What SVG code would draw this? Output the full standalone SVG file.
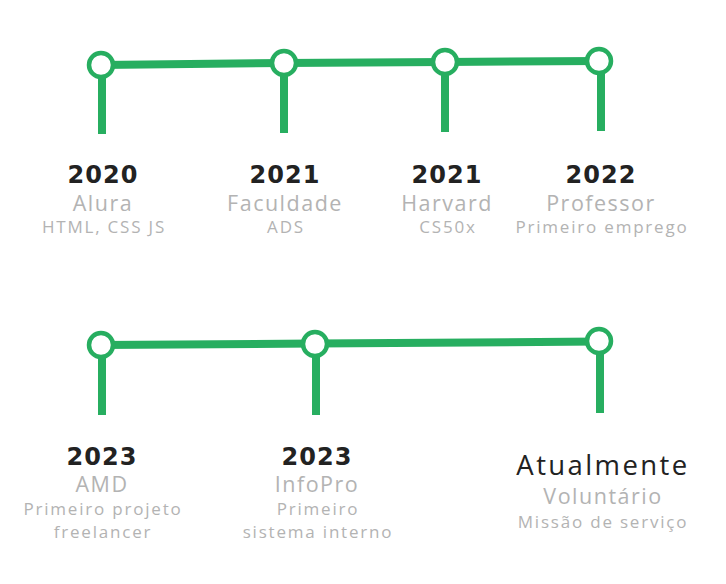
<svg xmlns="http://www.w3.org/2000/svg" width="726" height="584" viewBox="0 0 726 584">
<style>
.ln{stroke:#27ae60;stroke-width:8;fill:none}
.dot{fill:#fff;stroke:#27ae60;stroke-width:4.5}
.yr{font-family:"DejaVu Sans",sans-serif;font-weight:700;font-size:24px;fill:#222;text-anchor:middle;letter-spacing:1px}
.t1{font-family:"Open Sans",sans-serif;font-size:21.5px;fill:#b3b3b3;text-anchor:middle;letter-spacing:1.5px}
.t2{font-family:"Open Sans",sans-serif;font-size:17px;fill:#b3b3b3;text-anchor:middle;letter-spacing:1.8px}
.now{font-family:"Open Sans",sans-serif;font-weight:500;font-size:27.5px;fill:#222;text-anchor:middle;letter-spacing:2.4px}
</style>
<rect width="726" height="584" fill="#fff"/>
<g id="connectors">
<path class="ln" d="M101 65 L284 63 L445 62 L599 61"/>
<path class="ln" d="M102 77 V134 M284 75 V133 M445 74 V132 M601 73 V131"/>
<path class="ln" d="M101 345 L315 343.5 L599 341.5"/>
<path class="ln" d="M102 357 V415 M316 356 V415 M600 354 V413"/>
</g>
<g id="n2020"><circle class="dot" cx="101" cy="65" r="12"/><text class="yr" x="103" y="183">2020</text><text class="t1" x="103" y="211">Alura</text><text class="t2" x="104" y="233">HTML, CSS JS</text></g>
<g id="n2021a"><circle class="dot" cx="284" cy="63" r="12"/><text class="yr" x="285" y="183">2021</text><text class="t1" x="285" y="211">Faculdade</text><text class="t2" x="286" y="233">ADS</text></g>
<g id="n2021b"><circle class="dot" cx="445" cy="62" r="12"/><text class="yr" x="447" y="183">2021</text><text class="t1" x="447" y="211">Harvard</text><text class="t2" x="448" y="233">CS50x</text></g>
<g id="n2022"><circle class="dot" cx="599" cy="61" r="12"/><text class="yr" x="601" y="183">2022</text><text class="t1" x="601" y="211">Professor</text><text class="t2" x="602" y="233">Primeiro emprego</text></g>
<g id="n2023a"><circle class="dot" cx="101" cy="345" r="12"/><text class="yr" x="102" y="465">2023</text><text class="t1" x="102" y="492">AMD</text><text class="t2" x="103" y="515">Primeiro projeto</text><text class="t2" x="103" y="538">freelancer</text></g>
<g id="n2023b"><circle class="dot" cx="315" cy="344" r="12"/><text class="yr" x="317" y="465">2023</text><text class="t1" x="317" y="492">InfoPro</text><text class="t2" x="318" y="515">Primeiro</text><text class="t2" x="318" y="538">sistema interno</text></g>
<g id="nnow"><circle class="dot" cx="599" cy="341" r="12"/><text class="now" x="603" y="475">Atualmente</text><text class="t1" x="603" y="504">Voluntário</text><text class="t2" x="603" y="528">Missão de serviço</text></g>
</svg>
